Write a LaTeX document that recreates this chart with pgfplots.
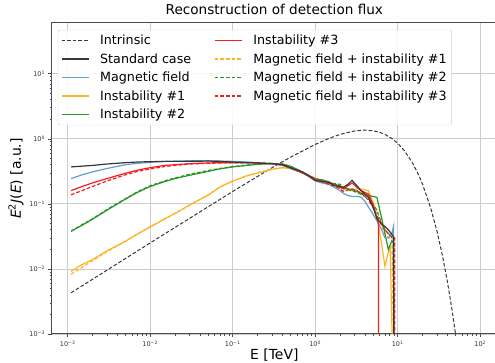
\documentclass[border=0pt]{standalone}
\usepackage{fontspec}
\setmainfont{DejaVu Sans}
\usepackage{pgfplots}
\pgfplotsset{compat=1.18}
\definecolor{cblk}{RGB}{55,55,55}
\definecolor{cblue}{RGB}{95,160,210}
\definecolor{corange}{RGB}{255,180,40}
\definecolor{cgreen}{RGB}{40,150,40}
\definecolor{cred}{RGB}{245,30,30}
\begin{document}
\begin{tikzpicture}
\begin{loglogaxis}[
  at={(0,0)}, anchor=south west, scale only axis,
  width=444.7pt, height=311pt,
  xmin=6.46e-4, xmax=158.5, ymin=1e-3, ymax=60.26,
  xtick={1e-3,1e-2,1e-1,1,10,100},
  xticklabels={10\textsuperscript{−3},10\textsuperscript{−2},10\textsuperscript{−1},10\textsuperscript{0},10\textsuperscript{1},10\textsuperscript{2}},
  ytick={1e-3,1e-2,1e-1,1,10},
  yticklabels={10\textsuperscript{−3},10\textsuperscript{−2},10\textsuperscript{−1},10\textsuperscript{0},10\textsuperscript{1}},
  tick label style={font=\fontsize{6.5}{7}\selectfont, black!80},
  tick align=outside, xtick pos=bottom, ytick pos=left,
  major tick length=3.5pt, minor tick length=2pt,
  tick style={black!70, line width=0.6pt},
  axis line style={draw=black!70, line width=1pt},
  grid=major, major grid style={gray!40, line width=0.8pt},
  title={Reconstruction of detection flux},
  title style={font=\fontsize{13.6}{15}\selectfont, at={(0.5,1)}, anchor=south, yshift=-1pt},
  xlabel={E [TeV]},
  xlabel style={font=\fontsize{13.9}{15}\selectfont, yshift=5pt},
  ylabel={{\itshape E}\textsuperscript{2}{\itshape J}({\itshape E}) [a.u.]},
  ylabel style={font=\fontsize{13.9}{15}\selectfont, yshift=-1pt},
  legend columns=2,
  legend cell align=left,
  legend image code/.code={\draw[#1] (0pt,0pt) -- (27pt,0pt);},
  legend style={at={(0.013,0.978)}, anchor=north west, draw=gray!35, rounded corners=2pt,
    fill=white, fill opacity=0.85, text opacity=1, draw opacity=1,
    font=\fontsize{12.7}{14}\selectfont, row sep=3.3pt, inner sep=3pt,
    /tikz/every odd column/.append style={column sep=9pt},
    /tikz/every even column/.append style={column sep=21pt}},
  every axis plot/.append style={line width=1.2pt},
]
% Intrinsic
\addplot[cblk, dash pattern=on 3.6pt off 2pt, line width=1pt, forget plot] coordinates {
(1.1e-3,0.0043) (1e-2,0.0251) (0.1,0.155) (0.3,0.36) (0.5,0.52) (1,0.819) (1.5,1.025) (2,1.167) (3,1.321) (4,1.36) (5,1.333) (6,1.263) (7,1.170) (8.5,1.012) (10,0.854) (12,0.662) (15,0.435) (18,0.276) (20,0.201) (25,0.0885) (30,0.0376) (35,0.0157) (40,0.0064) (45,0.0026) (50,0.00104) (55,0.00041)};
% Instability #1 (orange)
\addplot[corange, forget plot] coordinates {
(1.1e-3,0.0092) (1.5e-3,0.0117) (2e-3,0.0139) (3e-3,0.0190) (5e-3,0.0266) (7e-3,0.0345) (1e-2,0.044) (1.5e-2,0.059) (2e-2,0.071) (3e-2,0.096) (5e-2,0.135) (7e-2,0.182) (0.1,0.224) (0.15,0.272) (0.2,0.298) (0.3,0.34) (0.4,0.36) (0.5,0.35) (0.7,0.30) (0.85,0.27)
(1.0,0.25) (1.2,0.23) (1.45,0.215) (1.7,0.2) (2.0,0.18) (2.2,0.175) (2.5,0.17) (2.8,0.16) (3.2,0.17) (3.6,0.17) (4.0,0.165) (4.4,0.16) (5.0,0.11) (5.6,0.065) (6.4,0.024) (7.0,0.011) (7.7,0.018) (8.1,0.022) (8.9,0.0001)};
\addplot[corange, dash pattern=on 3.6pt off 2pt, forget plot] coordinates {
(1.1e-3,0.0083) (1.5e-3,0.0106) (2e-3,0.0134) (3e-3,0.0185) (5e-3,0.0265) (7e-3,0.034) (1e-2,0.045) (1.5e-2,0.058) (2e-2,0.072) (3e-2,0.095) (5e-2,0.137) (7e-2,0.18) (0.1,0.225) (0.15,0.27) (0.2,0.30) (0.3,0.34) (0.4,0.36) (0.5,0.35) (0.7,0.30) (0.85,0.265)
(1.0,0.245) (1.2,0.225) (1.45,0.21) (1.7,0.195) (2.0,0.175) (2.2,0.17) (2.5,0.165) (2.8,0.155) (3.2,0.155) (3.6,0.15) (4.0,0.145) (4.4,0.14) (5.0,0.10) (5.6,0.07) (6.4,0.045) (7.0,0.035) (7.7,0.03) (8.5,0.028) (9.1,0.0001)};
% Instability #2 (green)
\addplot[cgreen, forget plot] coordinates {
(1.1e-3,0.038) (1.5e-3,0.047) (2e-3,0.058) (3e-3,0.080) (5e-3,0.118) (7e-3,0.150) (1e-2,0.185) (1.5e-2,0.220) (2e-2,0.245) (3e-2,0.275) (5e-2,0.315) (7e-2,0.345) (0.1,0.370) (0.15,0.390) (0.2,0.405) (0.3,0.415) (0.4,0.41) (0.5,0.38) (0.7,0.31) (0.85,0.27)
(1.0,0.24) (1.2,0.235) (1.45,0.22) (1.7,0.2) (2.0,0.19) (2.2,0.175) (2.5,0.17) (2.8,0.165) (3.2,0.155) (3.6,0.145) (4.0,0.14) (4.4,0.135) (5.0,0.13) (5.6,0.126) (6.4,0.06) (7.0,0.035) (7.7,0.02) (8.5,0.027) (8.9,0.025) (9.0,0.0001)};
\addplot[cgreen, dash pattern=on 3.6pt off 2pt, forget plot] coordinates {
(1.1e-3,0.038) (1.5e-3,0.048) (2e-3,0.059) (3e-3,0.082) (5e-3,0.120) (7e-3,0.153) (1e-2,0.190) (1.5e-2,0.225) (2e-2,0.250) (3e-2,0.285) (5e-2,0.325) (7e-2,0.350) (0.1,0.375) (0.15,0.395) (0.2,0.41) (0.3,0.42) (0.4,0.41) (0.5,0.38) (0.7,0.31) (0.85,0.27)
(1.0,0.245) (1.2,0.23) (1.45,0.21) (1.7,0.205) (2.0,0.2) (2.2,0.18) (2.5,0.165) (2.8,0.16) (3.2,0.15) (3.6,0.14) (4.0,0.13) (4.4,0.12) (5.0,0.10) (5.6,0.08) (6.4,0.05) (7.0,0.04) (7.7,0.035) (8.5,0.03) (8.9,0.03) (9.0,0.0001)};
% Magnetic field (blue)
\addplot[cblue, forget plot] coordinates {
(1.1e-3,0.245) (1.5e-3,0.28) (2e-3,0.31) (3e-3,0.35) (5e-3,0.40) (7e-3,0.42) (1e-2,0.435) (1.5e-2,0.45) (2e-2,0.455) (3e-2,0.46) (5e-2,0.46) (7e-2,0.455) (0.1,0.45) (0.15,0.44) (0.2,0.43) (0.3,0.41) (0.4,0.39) (0.5,0.35) (0.7,0.30) (0.85,0.26)
(1.0,0.225) (1.2,0.21) (1.45,0.2) (1.7,0.18) (2.0,0.16) (2.2,0.145) (2.5,0.134) (2.8,0.13) (3.2,0.13) (3.6,0.127) (4.0,0.11) (4.4,0.09) (5.0,0.07) (5.6,0.055) (6.4,0.04) (7.0,0.03) (7.7,0.03) (8.5,0.035) (8.9,0.045) (9.0,0.0001)};
% Magnetic field + instability #3 (red dashed)
\addplot[cred, dash pattern=on 3.6pt off 2pt, forget plot] coordinates {
(1.1e-3,0.138) (1.5e-3,0.16) (2e-3,0.185) (3e-3,0.225) (5e-3,0.28) (7e-3,0.315) (1e-2,0.345) (1.5e-2,0.375) (2e-2,0.39) (3e-2,0.41) (5e-2,0.42) (7e-2,0.425) (0.1,0.43) (0.15,0.43) (0.2,0.425) (0.3,0.415) (0.4,0.40) (0.5,0.36) (0.7,0.30) (0.85,0.265)
(1.0,0.235) (1.2,0.22) (1.45,0.2) (1.7,0.19) (2.0,0.17) (2.2,0.155) (2.5,0.165) (2.8,0.17) (3.2,0.16) (3.6,0.145) (4.0,0.13) (4.4,0.115) (5.0,0.09) (5.6,0.065) (6.4,0.05) (7.0,0.04) (7.7,0.035) (8.5,0.031) (9.2,0.03) (9.25,0.0001)};
% Instability #3 (red)
\addplot[cred, forget plot] coordinates {
(1.1e-3,0.16) (1.5e-3,0.185) (2e-3,0.21) (3e-3,0.245) (5e-3,0.295) (7e-3,0.33) (1e-2,0.36) (1.5e-2,0.39) (2e-2,0.40) (3e-2,0.415) (5e-2,0.425) (7e-2,0.43) (0.1,0.43) (0.15,0.43) (0.2,0.425) (0.3,0.415) (0.4,0.40) (0.5,0.36) (0.7,0.30) (0.85,0.27)
(1.0,0.24) (1.2,0.225) (1.45,0.21) (1.7,0.2) (2.0,0.18) (2.2,0.17) (2.5,0.19) (2.8,0.21) (3.2,0.18) (3.6,0.16) (4.0,0.15) (4.4,0.142) (5.0,0.1) (5.6,0.06) (5.85,0.05) (5.86,0.0001)};
% Standard case (black)
\addplot[cblk, forget plot] coordinates {
(1.1e-3,0.37) (1.5e-3,0.38) (2e-3,0.39) (3e-3,0.41) (5e-3,0.43) (7e-3,0.44) (1e-2,0.445) (1.5e-2,0.45) (2e-2,0.45) (3e-2,0.45) (5e-2,0.455) (7e-2,0.45) (0.1,0.44) (0.15,0.43) (0.2,0.425) (0.3,0.415) (0.4,0.40) (0.5,0.36) (0.7,0.31) (0.85,0.265)
(1.0,0.23) (1.2,0.22) (1.45,0.215) (1.7,0.19) (2.0,0.185) (2.2,0.18) (2.5,0.20) (2.8,0.23) (3.2,0.19) (3.6,0.16) (4.0,0.14) (4.4,0.127) (5.0,0.09) (5.6,0.06) (6.4,0.048) (7.0,0.045) (7.7,0.04) (8.5,0.034) (8.9,0.031) (9.0,0.0001)};
% legend (row-wise order for two columns)
\addlegendimage{color=cblk, dash pattern=on 3.6pt off 2pt, line width=1pt}
\addlegendentry{Intrinsic}
\addlegendimage{color=cred, solid, line width=1.2pt}
\addlegendentry{Instability \#3}
\addlegendimage{color=cblk, solid, line width=1.2pt}
\addlegendentry{Standard case}
\addlegendimage{color=corange, dash pattern=on 3.6pt off 2pt, line width=1.2pt}
\addlegendentry{Magnetic field + instability \#1}
\addlegendimage{color=cblue, solid, line width=1.2pt}
\addlegendentry{Magnetic field}
\addlegendimage{color=cgreen, dash pattern=on 3.6pt off 2pt, line width=1.2pt}
\addlegendentry{Magnetic field + instability \#2}
\addlegendimage{color=corange, solid, line width=1.2pt}
\addlegendentry{Instability \#1}
\addlegendimage{color=cred, dash pattern=on 3.6pt off 2pt, line width=1.2pt}
\addlegendentry{Magnetic field + instability \#3}
\addlegendimage{color=cgreen, solid, line width=1.2pt}
\addlegendentry{Instability \#2}
\end{loglogaxis}
\pgfresetboundingbox
\path[use as bounding box] (-52pt,-29pt) rectangle (443pt,334pt);
\end{tikzpicture}
\end{document}
